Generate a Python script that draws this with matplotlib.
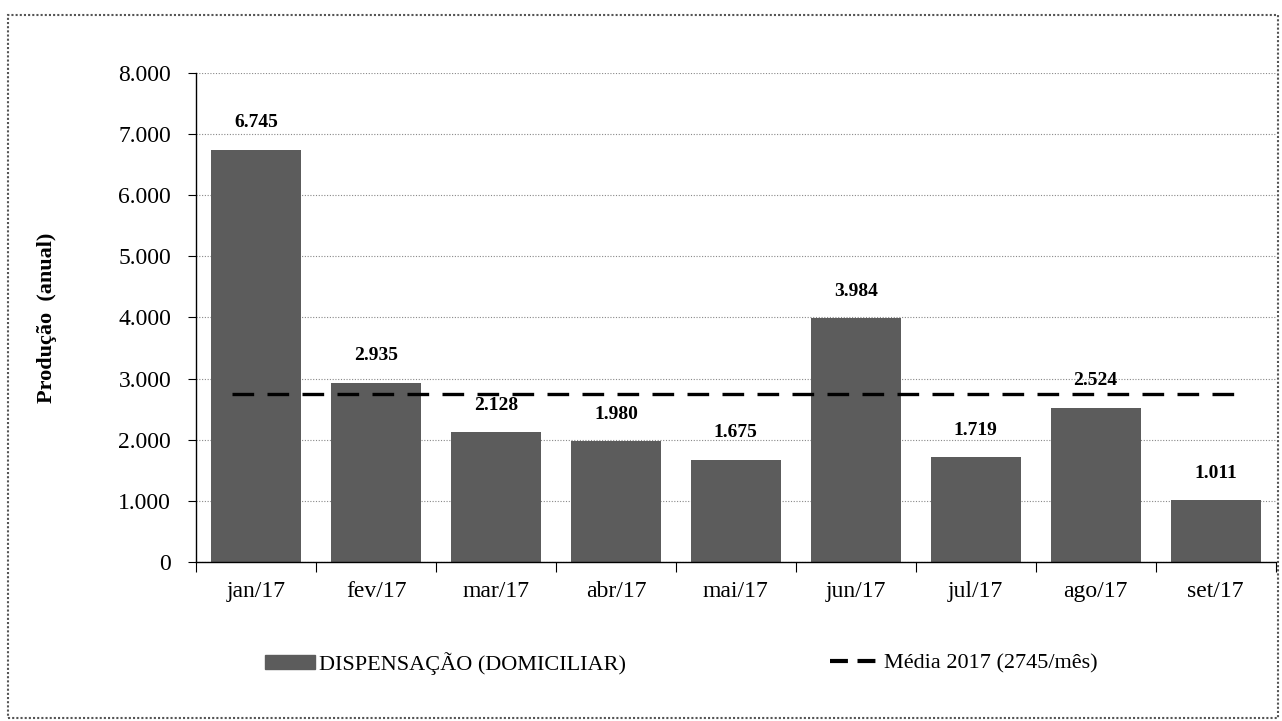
import matplotlib
matplotlib.use("Agg")
import matplotlib.pyplot as plt
from matplotlib.patches import Rectangle
from matplotlib.lines import Line2D
from matplotlib.ticker import FuncFormatter, FixedLocator

categories = ["jan/17", "fev/17", "mar/17", "abr/17", "mai/17", "jun/17", "jul/17", "ago/17", "set/17"]
values = [6745, 2935, 2128, 1980, 1675, 3984, 1719, 2524, 1011]
media = 2745
yticks = [0, 1000, 2000, 3000, 4000, 5000, 6000, 7000, 8000]

plt.rcParams['font.family'] = ['Liberation Serif', 'DejaVu Serif']

fig = plt.figure(figsize=(12.82, 7.21), dpi=100)
ax = fig.add_axes([0.153, 0.2205, 0.842, 0.6785])

x = list(range(len(categories)))
bar_color = '#5c5c5c'
ax.bar(x, values, width=0.75, color=bar_color, zorder=2)
ax.hlines(media, x[0] - 0.2, x[-1] + 0.25, colors='black', linestyles=(0, (6.5, 4)),
          linewidth=2.4, zorder=3)

for xi, v in zip(x, values):
    ax.text(xi, v + 300, f"{v:,}".replace(",", "."), ha='center', va='bottom',
            fontsize=14, fontweight='bold', zorder=4)

ax.set_ylim(0, 8000)
ax.set_xlim(-0.5, len(categories) - 0.5)
ax.yaxis.set_major_locator(FixedLocator(yticks))
ax.yaxis.set_major_formatter(FuncFormatter(lambda v, p: f"{int(v):,}".replace(",", ".")))
ax.set_xticks(x)
ax.set_xticklabels(categories, fontsize=17)
ax.tick_params(axis='x', length=0, pad=14)
ax.set_xticks([i + 0.5 for i in range(-1, len(categories))], minor=True)
ax.tick_params(axis='x', which='minor', length=7, width=0.8)
ax.tick_params(axis='y', labelsize=17, length=6, width=0.8, pad=12)
ax.grid(axis='y', color='#888888', linestyle=(0, (1, 1.5)), linewidth=0.8, zorder=0)
for s in ['top', 'right']:
    ax.spines[s].set_visible(False)
ax.spines['left'].set_linewidth(1.0)
ax.spines['bottom'].set_linewidth(1.0)
ax.set_ylabel("Produção  (anual)", fontsize=16, fontweight='bold', labelpad=44)

leg_kw = dict(frameon=False, fontsize=16, handlelength=2.25, handletextpad=0.2,
              handleheight=0.6, borderpad=0, borderaxespad=0)
leg1 = fig.legend([Rectangle((0, 0), 1, 1, color=bar_color)], ["DISPENSAÇÃO (DOMICILIAR)"],
                  loc='center left', bbox_to_anchor=(265 / 1282, 0.08), **leg_kw)
leg2 = fig.legend([Line2D([0], [0], color='black', linestyle=(0, (4.3, 2.3)), linewidth=3)],
                  ["Média 2017 (2745/mês)"],
                  loc='center left', bbox_to_anchor=(830 / 1282, 0.08), **leg_kw)

fig.patches.append(Rectangle((8 / 1282, 3 / 721), 1270 / 1282, 703 / 721, transform=fig.transFigure,
                             fill=False, edgecolor='#555555', linewidth=1.5, linestyle=(0, (1, 1))))

fig.savefig("out.png", dpi=100)
